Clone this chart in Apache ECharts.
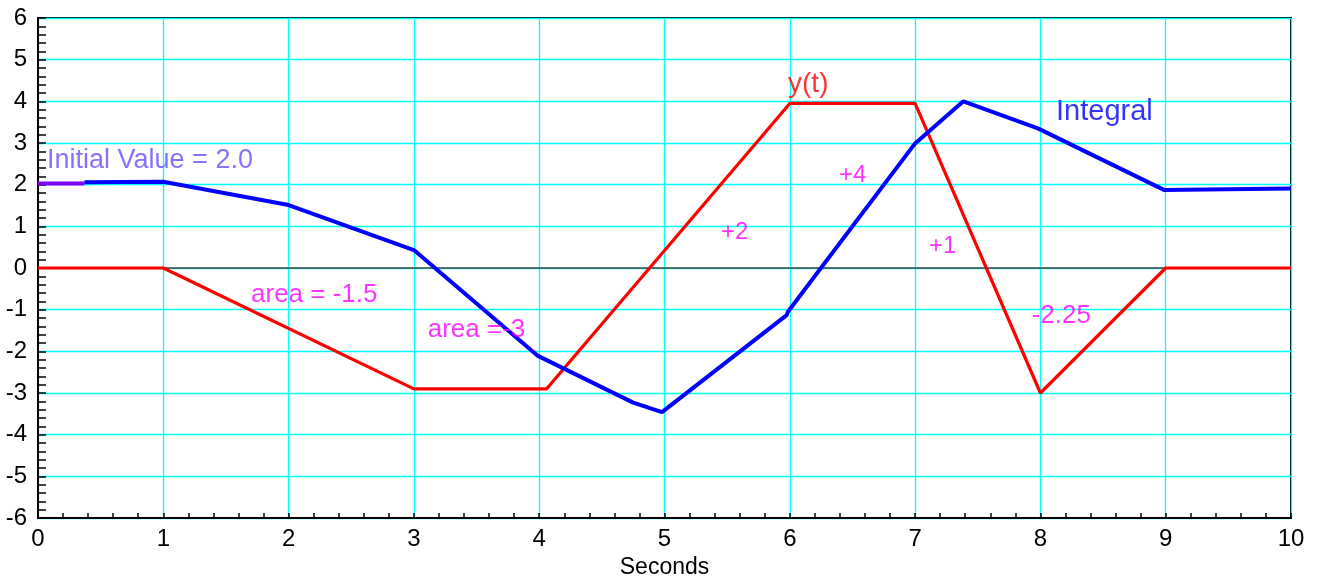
<!DOCTYPE html>
<html>
<head>
<meta charset="utf-8">
<script src="https://cdn.jsdelivr.net/npm/echarts@6/dist/echarts.min.js"></script>
<style>html,body{margin:0;padding:0;background:#fff}#c{width:1318px;height:578px}</style>
</head>
<body>
<div id="c"></div>
<script>
// y(t) signal
const yT = [0, 1, 3, 4.06, 6, 7, 8, 9, 10];
const yV = [0, 0, -2.9, -2.9, 3.95, 3.95, -3, 0, 0];
// Integral
const intT = [0.37, 1, 2, 3, 3.99, 4.75, 4.98, 5.975, 5.985, 7, 7.385, 7.98, 8.99, 10];
const intV = [2.06, 2.07, 1.51, 0.43, -2.11, -3.23, -3.46, -1.13, -1.05, 2.99, 4.0, 3.35, 1.87, 1.91];
// Initial value segment
const initT = [0, 0.37];
const initV = [2.03, 2.03];
// zero reference line
const zeroT = [0, 10];
const zeroV = [0, 0];
// annotations
const annoText = ['Initial Value = 2.0', 'y(t)', 'Integral', '+4', '+2', '+1', 'area = -1.5', 'area =-3', '-2.25'];
const annoX = [0.072, 5.986, 8.125, 6.393, 5.451, 7.111, 1.70, 3.11, 7.93];
const annoY = [2.59, 4.42, 3.74, 2.23, 0.86, 0.53, -0.64, -1.48, -1.15];
const annoColor = ['#6a4dff', '#ff0000', '#0000ff', '#ff00ff', '#ff00ff', '#ff00ff', '#ff00ff', '#ff00ff', '#ff00ff'];
const annoSize = [27, 28, 29, 24, 24, 24, 26, 26, 26];
// axis ticks
const xTicks = [0, 10, 1];
const yTicks = [-6, 6, 1];

const FONT = "'Liberation Sans', Arial, Helvetica, sans-serif";
const zip = (a, b) => a.map((v, i) => [v, b[i]]);

const chart = echarts.init(document.getElementById('c'), null, {renderer: 'canvas'});
chart.setOption({
  animation: false,
  backgroundColor: '#fff',
  grid: {left: 38, right: 27, top: 18, bottom: 60, containLabel: false, outerBoundsMode: 'none',
         show: true, borderColor: '#000', borderWidth: 2, backgroundColor: 'transparent'},
  xAxis: {
    type: 'value', min: xTicks[0], max: xTicks[1], interval: xTicks[2],
    name: 'Seconds', nameLocation: 'middle', nameGap: 33,
    nameTextStyle: {fontFamily: FONT, fontSize: 23, color: '#000'},
    axisLine: {onZero: false, lineStyle: {color: '#000', width: 2}},
    axisTick: {inside: true, length: 5, lineStyle: {color: '#000', width: 1.5}},
    minorTick: {show: true, splitNumber: 5, length: 5, lineStyle: {color: '#000', width: 1.5}},
    axisLabel: {fontFamily: FONT, fontSize: 24, color: '#000', margin: 9},
    splitLine: {show: true, lineStyle: {color: '#00ffff', width: 1.3}}
  },
  yAxis: {
    type: 'value', min: yTicks[0], max: yTicks[1], interval: yTicks[2],
    axisLine: {onZero: false, lineStyle: {color: '#000', width: 2}},
    axisTick: {inside: true, length: 8, lineStyle: {color: '#000', width: 1.5}},
    minorTick: {show: true, splitNumber: 5, length: 8, lineStyle: {color: '#000', width: 1.5}},
    axisLabel: {fontFamily: FONT, fontSize: 24, color: '#000', margin: 11},
    splitLine: {show: true, lineStyle: {color: '#00ffff', width: 1.3}}
  },
  series: [
    {type: 'line', data: zip(zeroT, zeroV), symbol: 'none', silent: true,
     lineStyle: {color: '#444', width: 1.5}},
    {type: 'line', name: 'y(t)', data: zip(yT, yV), symbol: 'none',
     lineStyle: {color: '#ff0000', width: 3.2}},
    {type: 'line', name: 'Integral', data: zip(intT, intV), symbol: 'none',
     lineStyle: {color: '#0000ff', width: 4}},
    {type: 'line', name: 'Initial', data: zip(initT, initV), symbol: 'none',
     lineStyle: {color: '#7f00ff', width: 4}},
    {type: 'scatter', symbolSize: 0, silent: true, z: 10,
     data: annoText.map((t, i) => ({
       value: [annoX[i], annoY[i]],
       label: {show: true, formatter: t, position: 'right', distance: 0,
               color: annoColor[i], fontSize: annoSize[i], fontFamily: FONT}
     }))}
  ]
});
</script>
</body>
</html>
